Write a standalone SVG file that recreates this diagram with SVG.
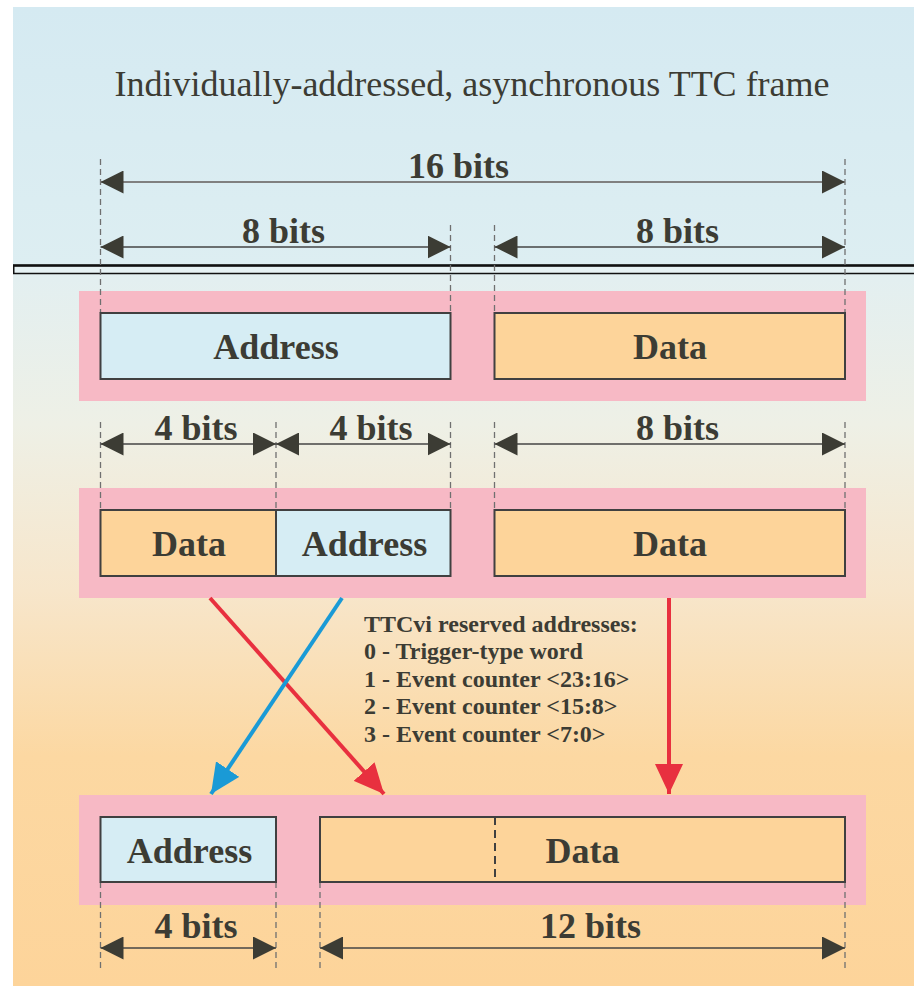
<svg xmlns="http://www.w3.org/2000/svg" width="914" height="986" viewBox="0 0 914 986">
<defs>
<linearGradient id="bgTop" x1="0" y1="0" x2="0" y2="1">
<stop offset="0" stop-color="#d5eaf2"/>
<stop offset="1" stop-color="#ddeef2"/>
</linearGradient>
<linearGradient id="bgBot" x1="0" y1="0" x2="0" y2="1">
<stop offset="0" stop-color="#e2eff1"/>
<stop offset="0.22" stop-color="#eef0e6"/>
<stop offset="0.45" stop-color="#f7e6cb"/>
<stop offset="0.68" stop-color="#fcd8a2"/>
<stop offset="1" stop-color="#fdd49a"/>
</linearGradient>
<marker id="dim" markerUnits="userSpaceOnUse" markerWidth="23" markerHeight="23" refX="23" refY="11.5" orient="auto-start-reverse">
<path d="M0,0 L23,11.5 L0,23 z" fill="#3c3c34"/>
</marker>
<marker id="redHead" markerUnits="userSpaceOnUse" markerWidth="30" markerHeight="28" refX="30" refY="14" orient="auto">
<path d="M0,0 L30,14 L0,28 z" fill="#e8303f"/>
</marker>
<marker id="blueHead" markerUnits="userSpaceOnUse" markerWidth="30" markerHeight="28" refX="30" refY="14" orient="auto">
<path d="M0,0 L30,14 L0,28 z" fill="#1a9ad6"/>
</marker>
<style>
.lbl{font-family:"Liberation Serif","Times New Roman",serif;font-weight:bold;font-size:36px;fill:#3c3c34;text-anchor:middle}
.note{font-family:"Liberation Serif","Times New Roman",serif;font-weight:bold;font-size:24px;fill:#3c3c34}
.title{font-family:"Liberation Serif","Times New Roman",serif;font-size:36px;fill:#3c3c34;text-anchor:middle}
.band{fill:#f7b9c5}
.addr{fill:#d6edf4;stroke:#404040;stroke-width:2}
.data{fill:#fdd49a;stroke:#404040;stroke-width:2}
.dash{stroke:#707070;stroke-width:1.3;stroke-dasharray:6 4;fill:none}
.dimline{stroke:#444;stroke-width:1.6;fill:none}
</style>
</defs>
<rect x="0" y="0" width="914" height="986" fill="#ffffff"/>
<rect x="13" y="7" width="901" height="259" fill="url(#bgTop)"/>
<rect x="13" y="266" width="901" height="720" fill="url(#bgBot)"/>
<rect x="13.75" y="265.5" width="910" height="8" fill="#e6f2f4" stroke="#111" stroke-width="1.5"/>
<line x1="13" y1="265.5" x2="914" y2="265.5" stroke="#111" stroke-width="2.5"/>

<text class="title" x="472" y="96">Individually-addressed, asynchronous TTC frame</text>

<g id="band1"><rect class="band" x="79" y="291" width="787" height="110"/></g>
<g id="band2"><rect class="band" x="79" y="488" width="787" height="110"/></g>
<g id="band3"><rect class="band" x="79" y="795" width="787" height="110"/></g>

<g id="dashes">
<line class="dash" x1="100.5" y1="159" x2="100.5" y2="313"/>
<line class="dash" x1="845" y1="159" x2="845" y2="313"/>
<line class="dash" x1="450.5" y1="225" x2="450.5" y2="313"/>
<line class="dash" x1="494.5" y1="225" x2="494.5" y2="313"/>
<line class="dash" x1="100.5" y1="422" x2="100.5" y2="510"/>
<line class="dash" x1="276" y1="422" x2="276" y2="510"/>
<line class="dash" x1="450.5" y1="422" x2="450.5" y2="510"/>
<line class="dash" x1="494.5" y1="422" x2="494.5" y2="510"/>
<line class="dash" x1="845" y1="422" x2="845" y2="510"/>
<line class="dash" x1="100.5" y1="882" x2="100.5" y2="970"/>
<line class="dash" x1="276" y1="882" x2="276" y2="970"/>
<line class="dash" x1="320" y1="882" x2="320" y2="970"/>
<line class="dash" x1="845" y1="882" x2="845" y2="970"/>
</g>

<g id="dimensions">
<line x1="100.5" y1="182" x2="845" y2="182" stroke="#808080" stroke-width="2" marker-start="url(#dim)" marker-end="url(#dim)"/>
<line class="dimline" x1="100.5" y1="247" x2="450.5" y2="247" marker-start="url(#dim)" marker-end="url(#dim)"/>
<line class="dimline" x1="494.5" y1="247" x2="845" y2="247" marker-start="url(#dim)" marker-end="url(#dim)"/>
<line class="dimline" x1="100.5" y1="444" x2="276" y2="444" marker-start="url(#dim)" marker-end="url(#dim)"/>
<line class="dimline" x1="276" y1="444" x2="450.5" y2="444" marker-start="url(#dim)" marker-end="url(#dim)"/>
<line class="dimline" x1="494.5" y1="444" x2="845" y2="444" marker-start="url(#dim)" marker-end="url(#dim)"/>
<line class="dimline" x1="100.5" y1="948" x2="276" y2="948" marker-start="url(#dim)" marker-end="url(#dim)"/>
<line class="dimline" x1="320" y1="948" x2="845" y2="948" marker-start="url(#dim)" marker-end="url(#dim)"/>
<text class="lbl" x="458.5" y="178">16 bits</text>
<text class="lbl" x="283.5" y="243">8 bits</text>
<text class="lbl" x="677.5" y="243">8 bits</text>
<text class="lbl" x="196" y="440">4 bits</text>
<text class="lbl" x="371" y="440">4 bits</text>
<text class="lbl" x="677.5" y="440">8 bits</text>
<text class="lbl" x="196" y="938">4 bits</text>
<text class="lbl" x="590.5" y="938">12 bits</text>
</g>

<g id="row1-address"><rect class="addr" x="100.5" y="313" width="350" height="66"/><text class="lbl" x="276" y="359">Address</text></g>
<g id="row1-data"><rect class="data" x="494.5" y="313" width="350.5" height="66"/><text class="lbl" x="670" y="359">Data</text></g>

<g id="row2-data-low"><rect class="data" x="100.5" y="510" width="175.5" height="66"/><text class="lbl" x="189" y="556">Data</text></g>
<g id="row2-address"><rect class="addr" x="276" y="510" width="174.5" height="66"/><text class="lbl" x="364.5" y="556">Address</text></g>
<g id="row2-data"><rect class="data" x="494.5" y="510" width="350.5" height="66"/><text class="lbl" x="670" y="556">Data</text></g>

<g id="row3-address"><rect class="addr" x="100.5" y="817" width="175.5" height="65"/><text class="lbl" x="189.5" y="863">Address</text></g>
<g id="row3-data"><rect class="data" x="320" y="817" width="525" height="65"/><line x1="495" y1="817" x2="495" y2="882" stroke="#404040" stroke-width="2" stroke-dasharray="8 5"/><text class="lbl" x="582.5" y="863">Data</text></g>

<g id="connectors">
<line x1="210" y1="598" x2="384" y2="794" stroke="#e8303f" stroke-width="4" marker-end="url(#redHead)"/>
<line x1="342" y1="598" x2="211" y2="794" stroke="#1a9ad6" stroke-width="4" marker-end="url(#blueHead)"/>
<line x1="669" y1="598" x2="669" y2="794" stroke="#e8303f" stroke-width="4" marker-end="url(#redHead)"/>
</g>

<g id="note">
<text class="note" x="364" y="631.5">TTCvi reserved addresses:</text>
<text class="note" x="364" y="659">0 - Trigger-type word</text>
<text class="note" x="364" y="686.5">1 - Event counter &lt;23:16&gt;</text>
<text class="note" x="364" y="714">2 - Event counter &lt;15:8&gt;</text>
<text class="note" x="364" y="741.5">3 - Event counter &lt;7:0&gt;</text>
</g>
</svg>
